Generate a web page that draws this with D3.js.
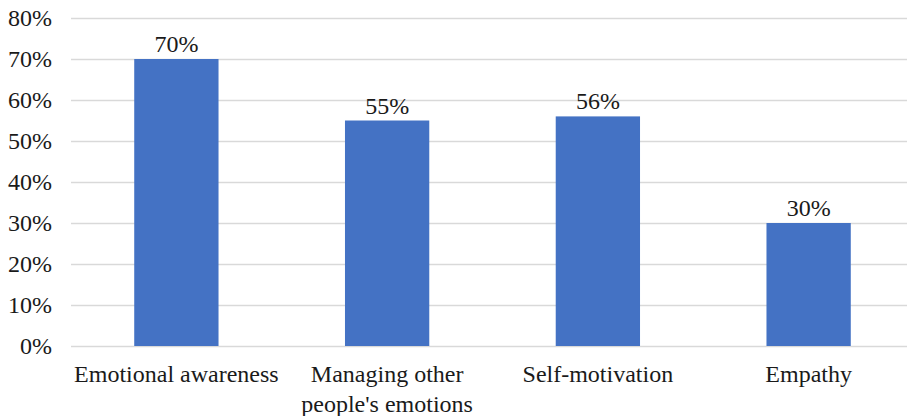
<!DOCTYPE html>
<html>
<head>
  <meta charset="utf-8">
  <title>Emotional intelligence</title>
<script src="https://cdnjs.cloudflare.com/ajax/libs/d3/7.8.5/d3.min.js"></script>
<style>
body { margin: 0; background: white; }
text {
  font-family: "Liberation Serif", "Times New Roman", serif;
  font-size: 24px;
  fill: #1a1a1a;
}
.grid line { stroke: #d9d9d9; stroke-width: 1.3; }
.grid path { display: none; }
.bar { fill: #4472C4; }
</style>
</head>
<body>
<svg id="chart" width="907" height="416"></svg>
<script>
var categories = [["Emotional awareness"], ["Managing other", "people's emotions"], ["Self-motivation"], ["Empathy"]];
var values = [0.70, 0.55, 0.56, 0.30];
var yTicks = [0, 0.1, 0.2, 0.3, 0.4, 0.5, 0.6, 0.7, 0.8];

var svg = d3.select("#chart");
var plotLeft = 71, plotRight = 914, plotTop = 18, plotBottom = 346;

var x = d3.scaleBand()
          .domain(d3.range(categories.length))
          .range([plotLeft, plotRight])
          .paddingInner(0.6)
          .paddingOuter(0.3);
var y = d3.scaleLinear()
          .domain([0, 0.8])
          .range([plotBottom, plotTop]);

var pct = d3.format(".0%");

// gridlines
svg.append("g")
  .attr("class", "grid")
  .attr("transform", `translate(${plotLeft}, 0)`)
  .call(d3.axisLeft(y).tickValues(yTicks).tickSize(-(plotRight - plotLeft)).tickFormat(""));

// y tick labels
svg.append("g")
  .selectAll("text")
  .data(yTicks)
  .enter().append("text")
    .attr("x", 52)
    .attr("y", d => y(d))
    .attr("dy", "0.35em")
    .style("text-anchor", "end")
    .text(d => pct(d));

// bars
svg.selectAll(".bar")
  .data(values)
  .enter().append("rect")
    .attr("class", "bar")
    .attr("x", (d, i) => x(i))
    .attr("y", d => y(d))
    .attr("width", x.bandwidth())
    .attr("height", d => plotBottom - y(d));

// value labels
svg.selectAll(".val")
  .data(values)
  .enter().append("text")
    .attr("class", "val")
    .attr("x", (d, i) => x(i) + x.bandwidth() / 2)
    .attr("y", d => y(d) - 7)
    .style("text-anchor", "middle")
    .text(d => pct(d));

// category labels
var labels = svg.selectAll(".cat")
  .data(categories)
  .enter().append("text")
    .attr("class", "cat")
    .attr("x", (d, i) => x(i) + x.bandwidth() / 2)
    .attr("y", 382)
    .style("text-anchor", "middle");

labels.selectAll("tspan")
  .data(d => d)
  .enter().append("tspan")
    .attr("x", function () { return d3.select(this.parentNode).attr("x"); })
    .attr("dy", (d, i) => i === 0 ? 0 : 30)
    .text(d => d);
</script>
</body>
</html>
